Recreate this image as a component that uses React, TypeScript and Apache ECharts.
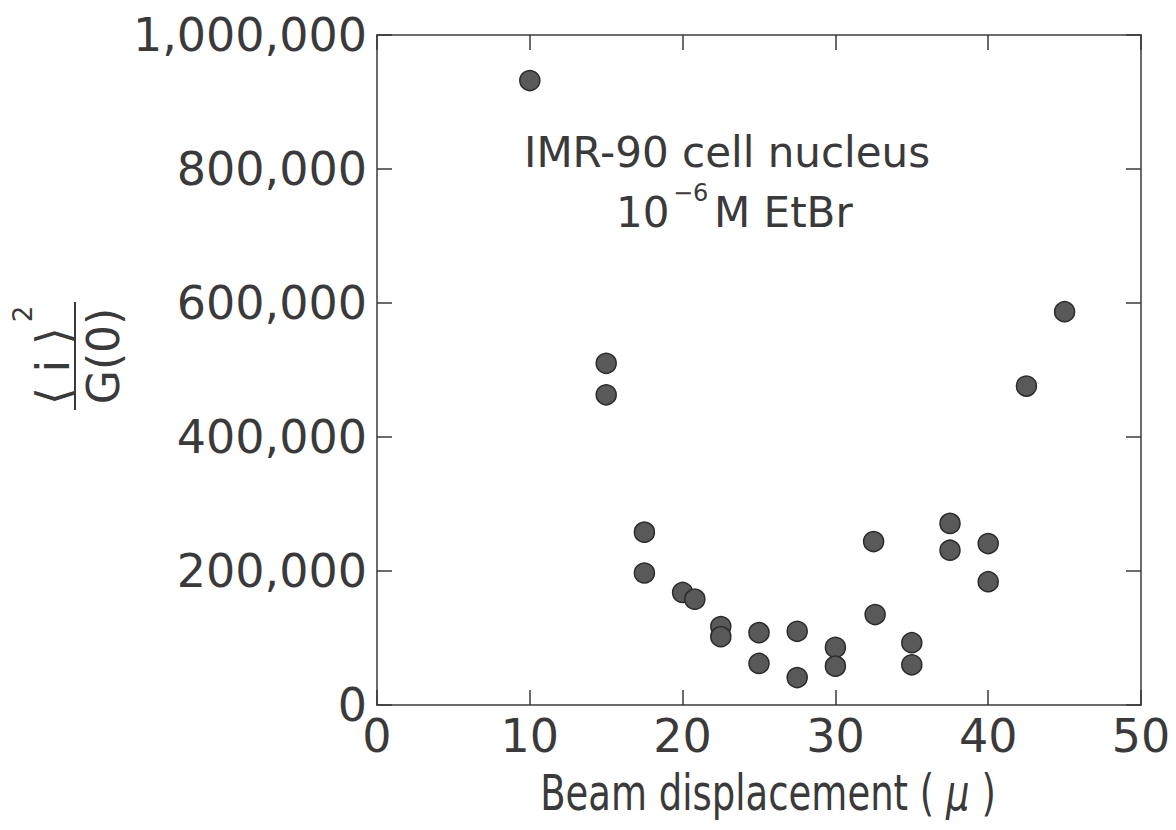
import React, { useEffect, useRef } from "react";
import * as echarts from "echarts";

const displacement = [10, 15, 15, 17.5, 17.5, 20, 20.8, 22.5, 22.5, 25, 25, 27.5, 27.5, 30, 30, 32.5, 32.6, 35, 35, 37.5, 37.5, 40, 40, 42.5, 45];
const ratio = [932000, 510000, 463000, 258000, 197000, 168000, 158000, 117000, 102000, 108000, 62000, 110000, 41000, 86000, 58000, 244000, 135000, 93000, 60000, 271000, 231000, 241000, 184000, 476000, 587000];

const annotationLine1 = "IMR-90 cell nucleus";
const annotationBase = "10";
const annotationExp = "−6";
const annotationRest = "M EtBr";

const INK = "#3a3a3a";
const FONT = "DejaVu Sans";

export default function App() {
  const ref = useRef<HTMLDivElement>(null);
  useEffect(() => {
    if (!ref.current) return;
    const chart = echarts.init(ref.current, null, { renderer: "svg" });
    const data = displacement.map((x, i) => [x, ratio[i]]);
    const mkLine = () => ({ show: true, onZero: false, lineStyle: { color: INK, width: 1.5 } });
    const mkTick = () => ({ show: true, inside: true, length: 15, lineStyle: { color: INK, width: 1.5 } });
    chart.setOption({
      animation: false,
      backgroundColor: "#fff",
      grid: { left: 377, right: 35, top: 35, bottom: 125, containLabel: false },
      xAxis: [
        {
          type: "value", min: 0, max: 50, interval: 10, position: "bottom",
          axisLine: mkLine(), axisTick: mkTick(), splitLine: { show: false },
          axisLabel: { fontFamily: FONT, fontSize: 46, color: INK, margin: 8 },
        },
        {
          type: "value", min: 0, max: 50, interval: 10, position: "top",
          axisLine: mkLine(), axisTick: mkTick(), splitLine: { show: false }, axisLabel: { show: false },
        },
      ],
      yAxis: [
        {
          type: "value", min: 0, max: 1000000, interval: 200000, position: "left",
          axisLine: mkLine(), axisTick: mkTick(), splitLine: { show: false },
          axisLabel: {
            fontFamily: FONT, fontSize: 46, color: INK, margin: 10,
            formatter: (v: number) => v.toLocaleString("en-US"),
          },
        },
        {
          type: "value", min: 0, max: 1000000, interval: 200000, position: "right",
          axisLine: mkLine(), axisTick: mkTick(), splitLine: { show: false }, axisLabel: { show: false },
        },
      ],
      series: [
        {
          type: "scatter", data, symbol: "circle", symbolSize: 20,
          itemStyle: { color: "#595959", borderColor: "#2b2b2b", borderWidth: 1.5, opacity: 1 },
        },
      ],
      graphic: [
        {
          type: "text", x: 727, y: 152,
          style: { text: annotationLine1, fontFamily: FONT, fontSize: 42, fill: INK, align: "center", verticalAlign: "middle" },
        },
        {
          type: "text", x: 616, y: 212,
          style: { text: annotationBase, fontFamily: FONT, fontSize: 42, fill: INK, align: "left", verticalAlign: "middle" },
        },
        {
          type: "text", x: 673, y: 193,
          style: { text: annotationExp, fontFamily: FONT, fontSize: 24, fill: INK, align: "left", verticalAlign: "middle" },
        },
        {
          type: "text", x: 714, y: 212,
          style: { text: annotationRest, fontFamily: FONT, fontSize: 42, fill: INK, align: "left", verticalAlign: "middle" },
        },
        {
          type: "text", x: 768, y: 792, scaleX: 0.74,
          style: {
            text: "Beam displacement ( {i|μ} )", fontFamily: FONT, fontSize: 50, fill: INK,
            align: "center", verticalAlign: "middle",
            rich: { i: { fontFamily: FONT, fontSize: 50, fontStyle: "italic", fill: INK } },
          },
        },
        {
          type: "group", x: 75, y: 356, rotation: Math.PI / 2,
          children: [
            { type: "line", shape: { x1: -54, y1: 0, x2: 54, y2: 0 }, style: { stroke: INK, lineWidth: 2 } },
            {
              type: "text", x: -10, y: -22,
              style: { text: "⟨ i ⟩", fontFamily: FONT, fontSize: 46, fill: INK, align: "center", verticalAlign: "middle" },
            },
            {
              type: "text", x: 42, y: -52,
              style: { text: "2", fontFamily: FONT, fontSize: 26, fill: INK, align: "center", verticalAlign: "middle" },
            },
            {
              type: "text", x: 0, y: 28,
              style: { text: "G(0)", fontFamily: FONT, fontSize: 44, fill: INK, align: "center", verticalAlign: "middle" },
            },
          ],
        },
      ],
    });
    return () => chart.dispose();
  }, []);
  return <div ref={ref} style={{ width: 1176, height: 830, position: "absolute", left: 0, top: 0 }} />;
}
